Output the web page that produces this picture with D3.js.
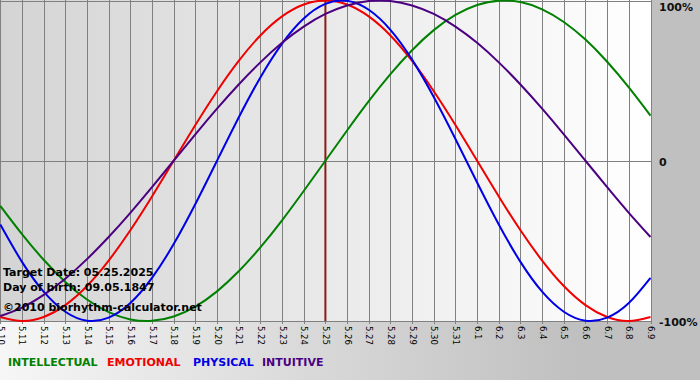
<!DOCTYPE html>
<html lang="en">
<head>
<meta charset="UTF-8">
<title>Biorhythm</title>
<script src="https://d3js.org/d3.v7.min.js"></script>
<style>
    body { margin: 0; }
    svg { display: block; font-family: "DejaVu Sans", Verdana, sans-serif; }
    .grid line { stroke: #808080; stroke-width: 1; shape-rendering: crispEdges; }
    .day-axis text { font-size: 8.5px; fill: #000; }
    .pct { font-size: 11px; font-weight: bold; fill: #111; }
    .note { font-size: 11px; font-weight: bold; fill: #000; }
    .legend { font-size: 11px; font-weight: bold; }
</style>
</head>
<body>
<svg id="chart"></svg>
<script>
// days shown on the x axis
const days = ["5.10", "5.11", "5.12", "5.13", "5.14", "5.15", "5.16", "5.17", "5.18", "5.19",
              "5.20", "5.21", "5.22", "5.23", "5.24", "5.25", "5.26", "5.27", "5.28", "5.29",
              "5.30", "5.31", "6.1", "6.2", "6.3", "6.4", "6.5", "6.6", "6.7", "6.8", "6.9"];

// cycle values in percent, one per day
const intellectual = [-28.2, -45.8, -61.8, -75.6, -86.6, -94.5, -99.0, -99.9, -97.2, -91.0, -81.5,
                      -69.0, -54.1, -37.2, -18.9, 0, 18.9, 37.2, 54.1, 69.0, 81.5, 91.0, 97.2,
                      99.9, 99.0, 94.5, 86.6, 75.6, 61.8, 45.8, 28.2];
const emotional = [-97.5, -100, -97.5, -90.1, -78.2, -62.3, -43.4, -22.3, 0, 22.3, 43.4, 62.3,
                   78.2, 90.1, 97.5, 100, 97.5, 90.1, 78.2, 62.3, 43.4, 22.3, 0, -22.3, -43.4,
                   -62.3, -78.2, -90.1, -97.5, -100, -97.5];
const physical = [-39.8, -63.1, -81.7, -94.2, -99.8, -97.9, -88.8, -73.1, -52.0, -27.0, 0, 27.0,
                  52.0, 73.1, 88.8, 97.9, 99.8, 94.2, 81.7, 63.1, 39.8, 13.6, -13.6, -39.8, -63.1,
                  -81.7, -94.2, -99.8, -97.9, -88.8, -73.1];
const intuitive = [-96.9, -91.6, -83.7, -73.6, -61.4, -47.6, -32.5, -16.5, 0, 16.5, 32.5, 47.6,
                   61.4, 73.6, 83.7, 91.6, 96.9, 99.7, 99.7, 96.9, 91.6, 83.7, 73.6, 61.4, 47.6,
                   32.5, 16.5, 0, -16.5, -32.5, -47.6];

const targetDay = "5.25";
const yTicks = [100, 0, -100];
const yTickLabels = ["100%", "0", "-100%"];

const width = 700, height = 380;
const plot = { left: 0, right: 651, top: 0.5, bottom: 321 };

const series = [
    { name: "INTELLECTUAL", values: intellectual, color: "#008000", lx: 8 },
    { name: "EMOTIONAL", values: emotional, color: "#f00000", lx: 107 },
    { name: "PHYSICAL", values: physical, color: "#0000e6", lx: 193 },
    { name: "INTUITIVE", values: intuitive, color: "#4b0082", lx: 262 }
];

const svg = d3.select("#chart")
    .attr("width", width)
    .attr("height", height);

const defs = svg.append("defs");
const bg = defs.append("linearGradient").attr("id", "bg")
    .attr("x1", 0).attr("x2", 1).attr("y1", 0).attr("y2", 0);
bg.append("stop").attr("offset", 0).attr("stop-color", "#f6f6f6");
bg.append("stop").attr("offset", 0.82).attr("stop-color", "#c0c0c0");
bg.append("stop").attr("offset", 1).attr("stop-color", "#c0c0c0");

const pg = defs.append("linearGradient").attr("id", "plotbg")
    .attr("x1", 0).attr("x2", 1).attr("y1", 0).attr("y2", 0);
pg.append("stop").attr("offset", 0).attr("stop-color", "#d4d4d4");
pg.append("stop").attr("offset", 1).attr("stop-color", "#ffffff");

svg.append("rect").attr("width", width).attr("height", height).attr("fill", "url(#bg)");
svg.append("rect")
    .attr("x", plot.left).attr("y", 0)
    .attr("width", plot.right - plot.left).attr("height", plot.bottom)
    .attr("fill", "url(#plotbg)");

// scales
const x = d3.scalePoint().domain(days).range([0.3, 650.5]);
const y = d3.scaleLinear().domain([-100, 100]).range([plot.bottom, plot.top]);

// vertical grid lines
const grid = svg.append("g").attr("class", "grid");
grid.selectAll(".v")
    .data(days)
    .enter()
    .append("line")
    .attr("x1", d => Math.round(x(d)) + 0.5)
    .attr("x2", d => Math.round(x(d)) + 0.5)
    .attr("y1", 0)
    .attr("y2", plot.bottom + 3);

// horizontal lines: top, zero, bottom
grid.selectAll(".h")
    .data(yTicks)
    .enter()
    .append("line")
    .attr("x1", plot.left)
    .attr("x2", plot.right)
    .attr("y1", d => Math.round(y(d)) + 0.5)
    .attr("y2", d => Math.round(y(d)) + 0.5);

// day labels (rotated)
const xAxis = svg.append("g")
    .attr("class", "day-axis")
    .attr("transform", `translate(0,${plot.bottom})`)
    .call(d3.axisBottom(x).tickSize(0).tickPadding(0));
xAxis.select(".domain").remove();
xAxis.selectAll("text")
    .attr("y", 0)
    .attr("x", 0)
    .attr("dy", "0.35em")
    .attr("text-anchor", "start")
    .attr("transform", "translate(0,5) rotate(90)");
xAxis.attr("font-family", null).attr("font-size", null);

// target day marker
svg.append("line")
    .attr("x1", x(targetDay)).attr("x2", x(targetDay))
    .attr("y1", 0).attr("y2", plot.bottom)
    .attr("stroke", "#8b1a1a")
    .attr("stroke-width", 2);

// cycle curves
const line = d3.line()
    .x((d, i) => x(days[i]))
    .y(d => y(d))
    .curve(d3.curveNatural);

svg.selectAll(".cycle")
    .data(series)
    .enter()
    .append("path")
    .attr("class", "cycle")
    .attr("d", d => line(d.values))
    .attr("fill", "none")
    .attr("stroke", d => d.color)
    .attr("stroke-width", 2);

// percent labels on the right
svg.selectAll(".pct")
    .data(yTicks)
    .enter()
    .append("text")
    .attr("class", "pct")
    .attr("x", 659)
    .attr("y", d => Math.max(y(d) + 5, 11))
    .text((d, i) => yTickLabels[i]);

// notes
const notes = ["Target Date: 05.25.2025", "Day of birth: 09.05.1847", "\u00A92010 biorhythm-calculator.net"];
const noteY = [276, 291, 311];
svg.selectAll(".note")
    .data(notes)
    .enter()
    .append("text")
    .attr("class", "note")
    .attr("x", 3)
    .attr("y", (d, i) => noteY[i])
    .text(d => d);

// legend
svg.selectAll(".legend")
    .data(series)
    .enter()
    .append("text")
    .attr("class", "legend")
    .attr("x", d => d.lx)
    .attr("y", 366)
    .attr("fill", d => d.color)
    .text(d => d.name);
</script>
</body>
</html>
